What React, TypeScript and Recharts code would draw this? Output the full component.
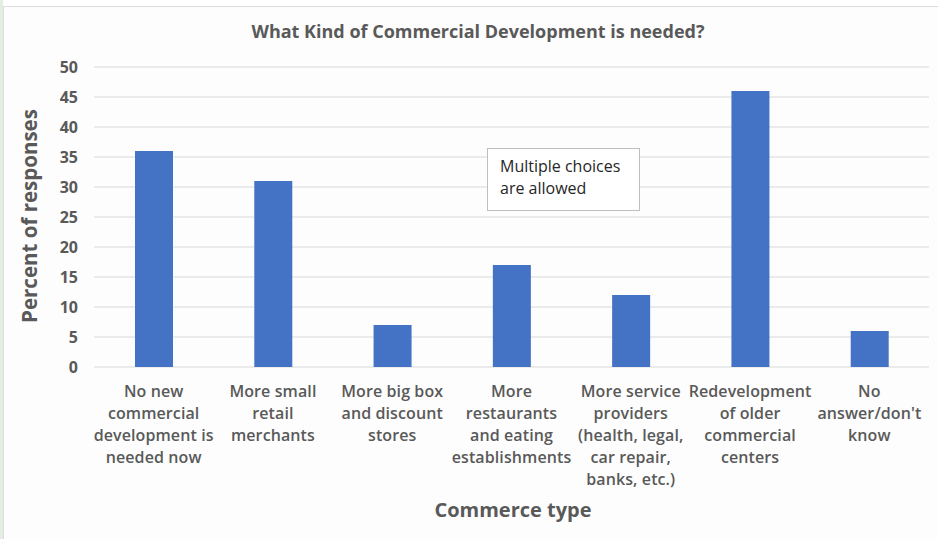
import React from 'react';
import { BarChart, Bar, XAxis, YAxis, CartesianGrid } from 'recharts';

const categories = [
  'No new commercial development is needed now',
  'More small retail merchants',
  'More big box and discount stores',
  'More restaurants and eating establishments',
  'More service providers (health, legal, car repair, banks, etc.)',
  'Redevelopment of older commercial centers',
  "No answer/don't know",
];
const categoryLines = [
  ['No new', 'commercial', 'development is', 'needed now'],
  ['More small', 'retail', 'merchants'],
  ['More big box', 'and discount', 'stores'],
  ['More', 'restaurants', 'and eating', 'establishments'],
  ['More service', 'providers', '(health, legal,', 'car repair,', 'banks, etc.)'],
  ['Redevelopment', 'of older', 'commercial', 'centers'],
  ['No', "answer/don't", 'know'],
];
const percentValues = [36, 31, 7, 17, 12, 46, 6];
const yTicks = [0, 5, 10, 15, 20, 25, 30, 35, 40, 45, 50];

const data = categories.map((c, i) => ({ name: c, idx: i, value: percentValues[i] }));

const FONT = '"Open Sans", "Noto Sans", sans-serif';
const GRAY = '#595959';

const XTick = (props: any) => {
  const { x, y, payload } = props;
  const lines = categoryLines[payload.index] || [String(payload.value)];
  return (
    <g>
      {lines.map((l, i) => (
        <text
          key={i}
          x={x}
          y={y + 22 + i * 22}
          textAnchor="middle"
          fontFamily={FONT}
          fontSize={16}
          fontWeight={600}
          fill={GRAY}
          style={{ letterSpacing: '0.1px' }}
        >
          {l}
        </text>
      ))}
    </g>
  );
};

const YTick = (props: any) => {
  const { y, payload } = props;
  return (
    <text x={78} y={y + 6} textAnchor="end" fontFamily={FONT} fontSize={16} fontWeight={700} fill={GRAY}>
      {payload.value}
    </text>
  );
};

export default function App() {
  return (
    <div style={{ position: 'absolute', left: 0, top: 0, width: 938, height: 539, background: '#ffffff', overflow: 'hidden' }}>
      <div style={{ position: 'absolute', left: 0, top: 0, width: 3, height: 539, background: '#e3ede0' }} />
      <div style={{ position: 'absolute', left: 3, top: 6, right: 0, bottom: 0, borderTop: '1px solid #dcdcdc', borderLeft: '1px solid #dcdcdc', background: '#fdfdfd' }} />
      <div style={{ position: 'absolute', left: 0, top: 0 }}>
        <BarChart width={938} height={539} data={data} margin={{ top: 67, right: 9, left: 44, bottom: 0 }}>
          <CartesianGrid vertical={false} stroke="#d9d9d9" strokeWidth={1} />
          <XAxis
            dataKey="name"
            height={172}
            axisLine={false}
            tickLine={false}
            interval={0}
            tick={<XTick />}
          />
          <YAxis
            width={50}
            domain={[0, 50]}
            ticks={yTicks}
            axisLine={false}
            tickLine={false}
            tick={<YTick />}
            interval={0}
          />
          <Bar dataKey="value" fill="#4472c4" barSize={38} isAnimationActive={false} />
          <text x={478} y={38} textAnchor="middle" fontFamily={FONT} fontSize={18} fontWeight={700} fill={GRAY}>
            What Kind of Commercial Development is needed?
          </text>
          <text
            x={37}
            y={216}
            transform="rotate(-90 37 216)"
            textAnchor="middle"
            fontFamily={FONT}
            fontSize={20.5}
            fontWeight={700}
            fill={GRAY}
          >
            Percent of responses
          </text>
          <text x={513} y={517} textAnchor="middle" fontFamily={FONT} fontSize={20} fontWeight={700} fill={GRAY}>
            Commerce type
          </text>
        </BarChart>
      </div>
      <div
        style={{
          position: 'absolute',
          left: 487,
          top: 148,
          width: 153,
          height: 63,
          border: '1px solid #bfbfbf',
          background: '#ffffff',
          fontFamily: FONT,
          fontSize: 16,
          lineHeight: '22px',
          color: '#262626',
          padding: '6px 0 0 12px',
          boxSizing: 'border-box',
        }}
      >
        Multiple choices
        <br />
        are allowed
      </div>
    </div>
  );
}
